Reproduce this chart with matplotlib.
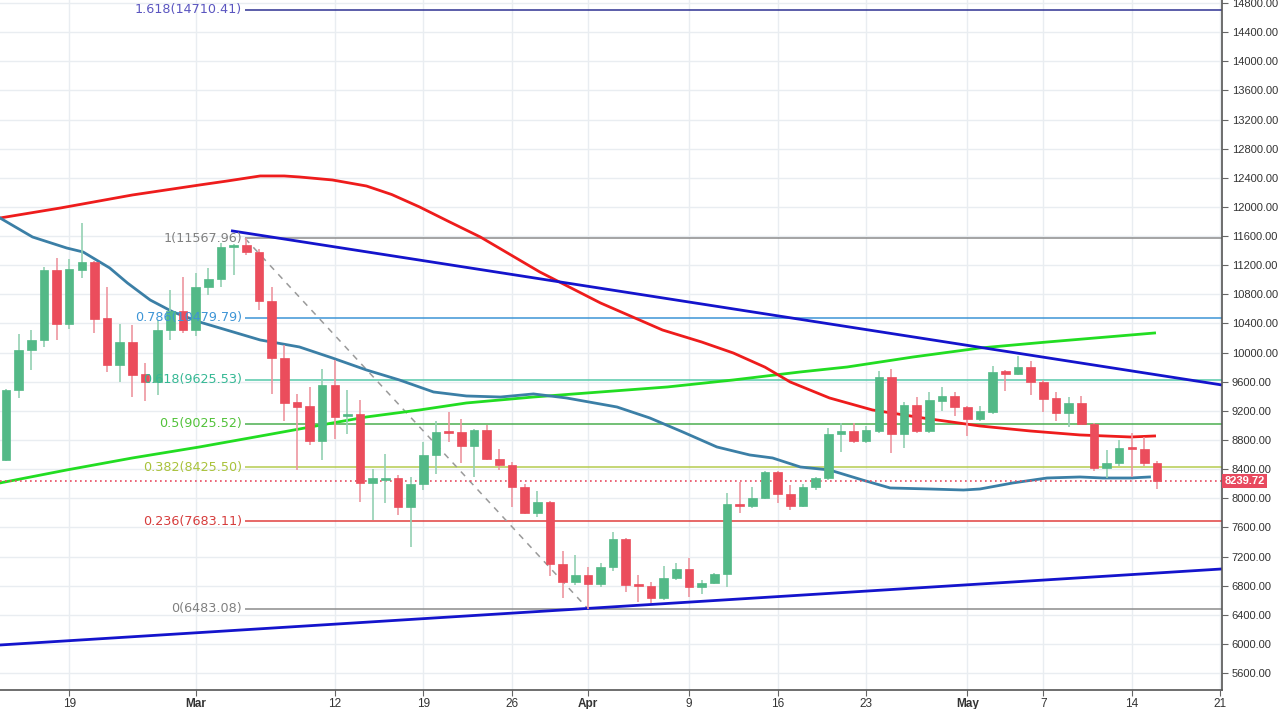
import matplotlib
matplotlib.use("Agg")

import numpy as np
import matplotlib.pyplot as plt

# daily candles, 2018-02-14 .. 2018-05-16
start = np.datetime64("2018-02-14")
dates = np.arange(start, np.datetime64("2018-05-17"), dtype="datetime64[D]")

opens = [8525, 9490, 10036, 10173, 11134, 10393, 11134, 11244, 10475, 9830, 10145, 9706, 9596, 10310, 10571,
         10310, 10900, 11010, 11450, 11477, 11381, 10708, 9926, 9322, 9267, 8786, 9555, 9130, 9157, 8210,
         8251, 8278, 7880, 8196, 8594, 8910, 8910, 8718, 8937, 8539, 8457, 8155, 7798, 7949, 7097, 6850,
         6946, 6822, 7056, 7441, 6822, 6795, 6630, 6905, 7029, 6782, 6836, 6960, 7921, 7894, 8004, 8361,
         8059, 7894, 8155, 8278, 8882, 8923, 8786, 8923, 9665, 8882, 9280, 8923, 9335, 9404,
         9253, 9088, 9184, 9747, 9706, 9802, 9596, 9377, 9171, 9308, 9020, 8416, 8484, 8690, 8676, 8484]
highs = [9500, 10255, 10310, 11180, 11299, 11285, 11779, 11260, 10900, 10393, 10379, 9857, 10448, 10859, 11038,
         11093, 11162, 11505, 11491, 11568, 11420, 10900, 10104, 9432, 9528, 9775, 9898, 9486, 9349, 8402,
         8608, 8320, 8292, 8772, 9061, 9184, 9088, 8950, 9006, 8676, 8498, 8200, 8100, 7960, 7276, 7221,
         7056, 7111, 7537, 7450, 6946, 6850, 7070, 7111, 7180, 6880, 6980, 8073, 8224, 8155, 8380, 8380,
         8182, 8200, 8292, 8964, 9033, 9033, 8990, 9747, 9775, 9320, 9390, 9459, 9528, 9460,
         9270, 9260, 9816, 9760, 9953, 9885, 9620, 9459, 9390, 9404, 9030, 8663, 8800, 8896, 8841, 8510]
lows = [8510, 9377, 9761, 10077, 10173, 10324, 11024, 10269, 9734, 9596, 9390, 9335, 9418, 10173, 10269,
        10228, 10790, 10900, 11065, 11340, 10585, 9432, 9061, 8388, 8731, 8525, 8814, 8882, 7949, 7702,
        7935, 7770, 7331, 8114, 8333, 8772, 8484, 8292, 8520, 8388, 7880, 7790, 7743, 6933, 6630, 6809,
        6483, 6780, 7000, 6713, 6576, 6562, 6600, 6880, 6644, 6685, 6820, 6782, 7798, 7860, 7990, 7935,
        7839, 7880, 8114, 8250, 8635, 8760, 8760, 8900, 8621, 8690, 8900, 8890, 9198, 9129,
        8855, 9060, 9150, 9473, 9690, 9418, 9184, 9061, 8978, 9000, 8374, 8278, 8440, 8292, 8440, 8128]
closes = [9486, 10036, 10173, 11134, 10393, 11148, 11244, 10462, 9830, 10145, 9693, 9596, 10310, 10571, 10310,
          10900, 11010, 11450, 11477, 11381, 10708, 9926, 9308, 9253, 8786, 9555, 9116, 9157, 8210, 8278,
          8278, 7880, 8196, 8594, 8910, 8895, 8718, 8937, 8539, 8457, 8155, 7798, 7949, 7097, 6850, 6946,
          6822, 7056, 7441, 6809, 6795, 6630, 6905, 7029, 6782, 6836, 6960, 7921, 7894, 8004, 8361, 8059,
          7894, 8155, 8278, 8882, 8923, 8786, 8937, 9665, 8882, 9280, 8923, 9349, 9404, 9253,
          9088, 9198, 9734, 9706, 9802, 9596, 9363, 9171, 9308, 9020, 8416, 8484, 8690, 8676, 8484, 8240]
last_price = 8239.72

# moving averages (day offset from Feb 14, price)
ma_red_x = [-0.47, 4.3, 10.0, 15.3, 17.5, 20.1, 22.0, 23.2, 25.8, 28.5, 30.5, 32.7, 35.0, 37.5, 42.2, 47.0,
            51.9, 55.0, 57.5, 60.0, 62.0, 65.1, 68.5, 72.5, 77.0, 81.0, 84.9, 88.9, 90.8]
ma_red_y = [11848, 11985, 12164, 12301, 12356, 12425, 12425, 12411, 12370, 12287, 12170, 11999, 11800, 11587,
            11107, 10681, 10310, 10145, 9994, 9800, 9596, 9377, 9212, 9102, 8992, 8923, 8869, 8841, 8855]
ma_blue_x = [-0.47, 2.1, 4.8, 6.1, 8.2, 9.6, 11.4, 13.2, 15.3, 20.1, 23.2, 25.8, 28.5, 31.1, 33.8, 36.4,
             39.1, 41.7, 44.3, 48.3, 50.9, 53.5, 56.2, 58.8, 60.6, 62.8, 65.1, 67.7, 69.9, 73.0, 75.7,
             77.0, 79.6, 82.3, 84.9, 86.7, 88.9, 90.4]
ma_blue_y = [11848, 11587, 11436, 11381, 11162, 10956, 10722, 10558, 10420, 10173, 10077, 9926, 9761, 9624, 9459,
             9404, 9390, 9432, 9377, 9253, 9102, 8910, 8704, 8594, 8553, 8429, 8388, 8251, 8141, 8127, 8113,
             8127, 8210, 8278, 8292, 8278, 8278, 8292]
ma_green_x = [-0.47, 4.8, 10.0, 15.3, 20.6, 25.8, 28.5, 32.7, 36.4, 41.7, 47.0, 52.3, 57.5, 62.8, 66.5,
              71.7, 77.0, 82.3, 90.8]
ma_green_y = [8210, 8388, 8553, 8704, 8869, 9033, 9116, 9212, 9308, 9390, 9459, 9528, 9624, 9734, 9802,
              9939, 10063, 10145, 10269]

# drawn trend lines (day offset, price)
down_x = [17.9, 96.13]
down_y = [11670, 9555]
up_x = [-0.47, 96.13]
up_y = [5985, 7029]

# fibonacci retracement
fib_ratios = ["1.618", "1", "0.786", "0.618", "0.5", "0.382", "0.236", "0"]
fib_levels = [14710.41, 11567.96, 10479.79, 9625.53, 9025.52, 8425.50, 7683.11, 6483.08]
fib_line_colors = ["#2e3192", "#8c8c8c", "#3d95d6", "#55c9aa", "#4caf50", "#b5cc50", "#e0403f", "#8c8c8c"]
fib_text_colors = ["#5a55c0", "#808080", "#3d95d6", "#35b894", "#52c23a", "#a9c23a", "#d63c3c", "#808080"]
fib_start = 18.9
fib_end = 46.0

tick_dates = ["2018-02-19", "2018-03-01", "2018-03-12", "2018-03-19", "2018-03-26", "2018-04-01",
              "2018-04-09", "2018-04-16", "2018-04-23", "2018-05-01", "2018-05-07", "2018-05-14", "2018-05-21"]
tick_labels = ["19", "Mar", "12", "19", "26", "Apr", "9", "16", "23", "May", "7", "14", "21"]

GREEN = "#53b987"
RED = "#eb4d5c"

fig = plt.figure(figsize=(12.8, 7.09), dpi=100)
ax = fig.add_axes([0, 19 / 709, 1222 / 1280, 690 / 709])

x = (dates - start).astype(int)
o = np.array(opens, dtype=float)
h = np.array(highs, dtype=float)
l = np.array(lows, dtype=float)
c = np.array(closes, dtype=float)
up = c >= o
cols = np.where(up, GREEN, RED)
wick_cols = np.where(up, "#94d1b3", "#ee96a0")

# grid
tx = [(np.datetime64(d) - start).astype(int) for d in tick_dates]
for t in tx:
    ax.axvline(t, color="#e9edf1", lw=1, zorder=0)
for yv in range(5600, 14801, 400):
    ax.axhline(yv, color="#e9edf1", lw=1, zorder=0)

# fib levels
for ratio, lev, lc, tc in zip(fib_ratios, fib_levels, fib_line_colors, fib_text_colors):
    ax.hlines(lev, fib_start, 100, color=lc, lw=1.1, zorder=1)
    ax.text(fib_start - 0.25, lev, f"{ratio}({lev:.2f})", color=tc, fontsize=9.2,
            ha="right", va="center", zorder=5)
ax.plot([fib_start, fib_end], [fib_levels[1], fib_levels[-1]], color="#9a9a9a", lw=1.1,
        ls=(0, (4, 4)), zorder=1)

# moving averages
ax.plot(ma_green_x, ma_green_y, color="#22dd22", lw=2, zorder=2)
ax.plot(ma_red_x, ma_red_y, color="#ee1c1c", lw=2, zorder=2)
ax.plot(ma_blue_x, ma_blue_y, color="#3b7fa6", lw=2, zorder=2)

# trend lines
ax.plot(down_x, down_y, color="#1414cc", lw=2, zorder=2)
ax.plot(up_x, up_y, color="#1414cc", lw=2, zorder=2)

# candles
ax.vlines(x, l, h, colors=wick_cols, lw=1.2, zorder=3)
body_lo = np.minimum(o, c)
body_h = np.maximum(np.abs(c - o), 25)
ax.bar(x, body_h, bottom=body_lo, width=0.68, color=cols, edgecolor=cols, lw=0.5, zorder=4)

# last price
ax.axhline(last_price, color="#e84a5f", lw=1.2, ls=(0, (1, 2)), zorder=2)
ax.text(1.002, last_price, f"{last_price:.2f}", transform=ax.get_yaxis_transform(),
        ha="left", va="center", color="white", fontsize=8, fontweight="bold",
        family="Liberation Sans",
        bbox=dict(boxstyle="square,pad=0.2", fc="#e84a5f", ec="none"), zorder=6, clip_on=False)

ax.set_xlim(-0.47, 96.13)
ax.set_ylim(5367, 14841)

ax.yaxis.tick_right()
ax.set_yticks(range(5600, 14801, 400))
ax.set_yticklabels([f"{v:.2f}" for v in range(5600, 14801, 400)])
ax.set_xticks(tx)
ax.set_xticklabels(tick_labels)
for lab, txt in zip(ax.get_xticklabels(), tick_labels):
    if not txt.isdigit():
        lab.set_fontweight("bold")
ax.tick_params(axis="y", length=4, width=0.8, color="#666666", labelsize=8, pad=3, labelcolor="#333333")
ax.tick_params(axis="x", length=4, width=0.8, color="#666666", labelsize=8.5, pad=2, labelcolor="#333333")
for lab in ax.get_xticklabels() + ax.get_yticklabels():
    lab.set_family("Liberation Sans")

for side in ["top", "left"]:
    ax.spines[side].set_visible(False)
for side in ["right", "bottom"]:
    ax.spines[side].set_color("#555555")
    ax.spines[side].set_linewidth(1.2)

fig.savefig("out.png", dpi=100)
